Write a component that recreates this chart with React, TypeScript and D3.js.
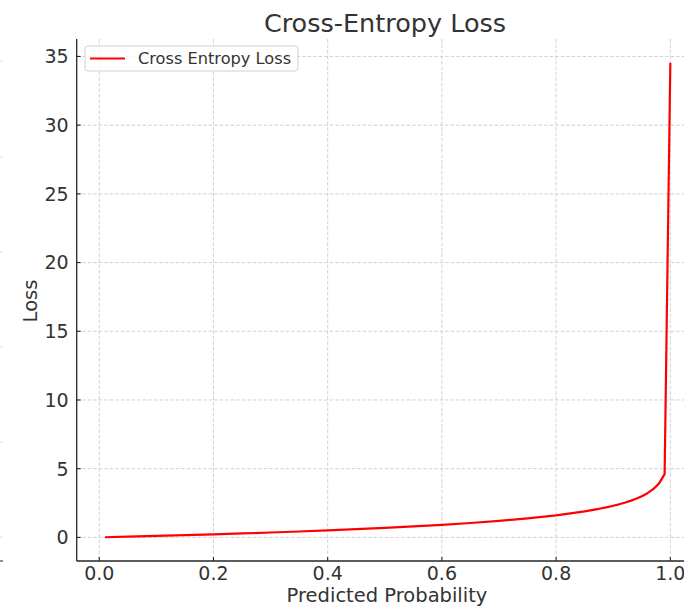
import React from "react";
import * as d3 from "d3";

const probs = [0.01, 0.05, 0.1, 0.15, 0.2, 0.25, 0.3, 0.35, 0.4, 0.45, 0.5, 0.55, 0.6, 0.65, 0.7, 0.75, 0.8, 0.85, 0.86, 0.87, 0.88, 0.89, 0.9, 0.91, 0.92, 0.93, 0.94, 0.95, 0.96, 0.97, 0.98, 0.99, 1.0];
const losses = [0.010, 0.051, 0.105, 0.163, 0.223, 0.288, 0.357, 0.431, 0.511, 0.598, 0.693, 0.799, 0.916, 1.050, 1.204, 1.386, 1.609, 1.897, 1.966, 2.040, 2.120, 2.207, 2.303, 2.408, 2.526, 2.659, 2.813, 2.996, 3.219, 3.507, 3.912, 4.605, 34.539];
const xTicks = [0.0, 0.2, 0.4, 0.6, 0.8, 1.0];
const yTicks = [0, 5, 10, 15, 20, 25, 30, 35];
const edgeMarks = [61, 157, 252, 347, 442, 537];

const W = 684;
const H = 606;
const FONT = "'DejaVu Sans', sans-serif";

export default function App() {
  const x = d3.scaleLinear().domain([-0.0395, 1.0495]).range([76.7, 698.6]);
  const y = d3.scaleLinear().domain([-1.717, 36.27]).range([561, 39]);
  const pts: [number, number][] = probs.map((p, i) => [p, losses[i]]);
  const line = d3.line<[number, number]>().x((d) => x(d[0])).y((d) => y(d[1]));
  const left = x.range()[0];
  const bottom = y.range()[0];
  const top = y.range()[1];
  const txt = "#333333";

  return (
    <svg width={W} height={H} style={{ position: "absolute", left: 0, top: 0, background: "#fff" }}>
      <rect width={W} height={H} fill="#fff" />
      {edgeMarks.map((m) => (
        <line key={m} x1={0} x2={3} y1={m} y2={m} stroke="#ddd" strokeWidth={1} />
      ))}
      <line x1={0} x2={3} y1={561} y2={561} stroke="#444" strokeWidth={1.2} />
      {/* grid */}
      {xTicks.map((t) => (
        <line key={"gx" + t} x1={x(t)} x2={x(t)} y1={top} y2={bottom} stroke="#cccccc" strokeWidth={0.9} strokeDasharray="3.5,2" />
      ))}
      {yTicks.map((t) => (
        <line key={"gy" + t} x1={left} x2={W} y1={y(t)} y2={y(t)} stroke="#cccccc" strokeWidth={0.9} strokeDasharray="3.5,2" />
      ))}
      {/* curve */}
      <path d={line(pts) || ""} fill="none" stroke="#ff0000" strokeWidth={2.2} strokeLinejoin="round" />
      {/* spines */}
      <line x1={left} x2={left} y1={top} y2={bottom} stroke="#262626" strokeWidth={1.3} />
      <line x1={left} x2={W} y1={bottom} y2={bottom} stroke="#262626" strokeWidth={1.3} />
      {/* ticks */}
      {xTicks.map((t) => (
        <g key={"tx" + t}>
          <line x1={x(t)} x2={x(t)} y1={bottom} y2={bottom - 4} stroke="#262626" strokeWidth={1.1} />
          <text x={x(t)} y={580} textAnchor="middle" fontFamily={FONT} fontSize={19} fill={txt}>
            {t.toFixed(1)}
          </text>
        </g>
      ))}
      {yTicks.map((t) => (
        <g key={"ty" + t}>
          <line x1={left} x2={left + 4} y1={y(t)} y2={y(t)} stroke="#262626" strokeWidth={1.1} />
          <text x={left - 8} y={y(t)} dy="0.36em" textAnchor="end" fontFamily={FONT} fontSize={19} fill={txt}>
            {t}
          </text>
        </g>
      ))}
      {/* labels */}
      <text x={385} y={31.5} textAnchor="middle" fontFamily={FONT} fontSize={25.5} fill={txt}>
        Cross-Entropy Loss
      </text>
      <text x={387} y={602} textAnchor="middle" fontFamily={FONT} fontSize={19.5} fill={txt}>
        Predicted Probability
      </text>
      <text transform={`translate(36.5,301) rotate(-90)`} textAnchor="middle" fontFamily={FONT} fontSize={19.5} fill={txt}>
        Loss
      </text>
      {/* legend */}
      <rect x={85} y={46} width={213} height={25} rx={3} fill="#fff" fillOpacity={0.8} stroke="#d0d0d0" strokeWidth={1} />
      <line x1={90} x2={125} y1={58.5} y2={58.5} stroke="#ff0000" strokeWidth={2.2} />
      <text x={138} y={58.5} dy="0.36em" fontFamily={FONT} fontSize={16.2} fill={txt}>
        Cross Entropy Loss
      </text>
    </svg>
  );
}
